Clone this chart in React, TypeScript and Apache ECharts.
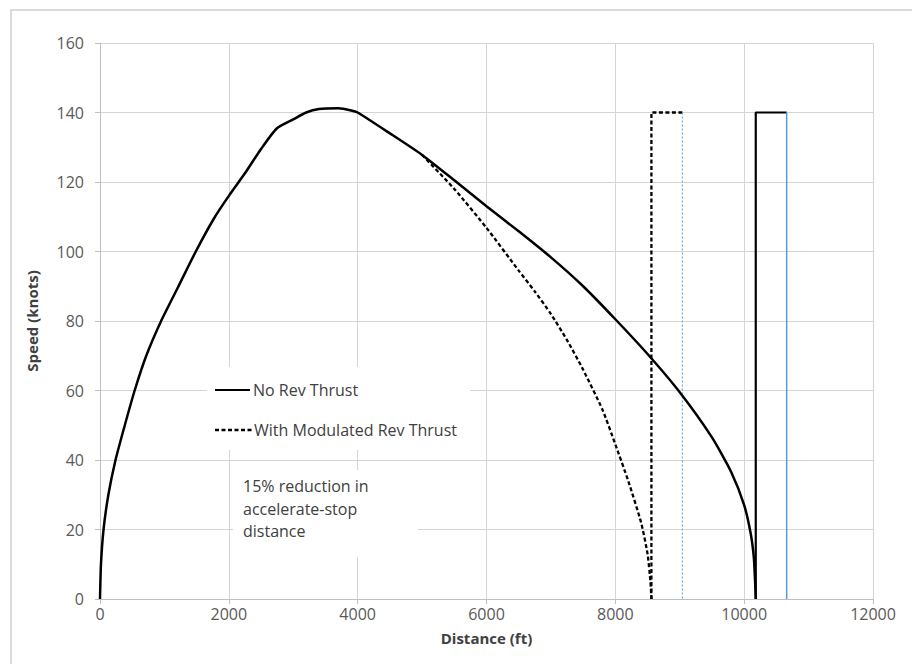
import React, { useEffect, useRef } from "react";
import * as echarts from "echarts";

// Takeoff run + stop: speed (knots) against distance (ft)
const noRevThrust: [number, number][] = [
  [0, 0], [15, 10], [55, 20], [130, 30], [241, 40], [385, 50], [538, 60],
  [718, 70], [949, 80], [1205, 89.5], [1487, 100], [1769, 109.5], [2000, 116],
  [2250, 122.5], [2500, 129.5], [2744, 135.4], [3000, 138], [3200, 140],
  [3400, 141], [3700, 141.2], [3900, 140.6], [4000, 140], [4500, 134],
  [5000, 127.8], [5500, 120.5], [6000, 113], [6500, 105.8], [7000, 98.3],
  [7500, 90], [8000, 80.5], [8500, 70.5], [9000, 59.5], [9500, 46.5],
  [9800, 36.5], [10000, 27], [10100, 19], [10150, 12], [10170, 5], [10180, 0],
];

const withModRevThrust: [number, number][] = [
  [5000, 127.8], [5500, 118], [6000, 106.8], [6500, 94.5], [6750, 88.5],
  [7000, 82], [7250, 74.5], [7500, 66], [7800, 54.5], [8000, 44.5],
  [8200, 34], [8400, 22], [8500, 13], [8545, 5], [8560, 0],
];

// Accelerate-stop distance markers
const stopNoRev: [number, number][] = [[10180, 0], [10180, 140], [10660, 140]];
const stopNoRevEnd: [number, number][] = [[10660, 140], [10660, 0]];
const stopModRev: [number, number][] = [[8560, 0], [8560, 140], [9040, 140]];
const stopModRevEnd: [number, number][] = [[9040, 140], [9040, 0]];

const legendNames = ["No Rev Thrust", "With Modulated Rev Thrust"];
const noteLines = ["15% reduction in", "accelerate-stop", "distance"];

const FONT = "'Open Sans', 'Liberation Sans', sans-serif";
const GRID = "#d4d4d4";
const TEXT = "#404040";
const BLUE = "#5b9bd5";

export default function App() {
  const ref = useRef<HTMLDivElement>(null);

  useEffect(() => {
    if (!ref.current) return;
    const chart = echarts.init(ref.current, undefined, { renderer: "svg" });

    const line = (data: [number, number][], color: string, width: number, type: any, smooth: number | boolean, z = 2) => ({
      type: "line",
      data,
      showSymbol: false,
      smooth,
      z,
      lineStyle: { color, width, type },
      emphasis: { disabled: true },
      silent: true,
    });

    chart.setOption({
      animation: false,
      backgroundColor: "#ffffff",
      textStyle: { fontFamily: FONT },
      grid: { left: 100, right: 39, top: 43, bottom: 65 },
      xAxis: {
        type: "value",
        min: 0,
        max: 12000,
        interval: 2000,
        name: "Distance (ft)",
        nameLocation: "middle",
        nameGap: 31,
        nameTextStyle: { fontFamily: FONT, fontSize: 15, fontWeight: "bold", color: TEXT },
        axisLine: { show: true, lineStyle: { color: "#bfbfbf", width: 1 } },
        axisTick: { show: true, length: 5, lineStyle: { color: "#bfbfbf" } },
        axisLabel: { fontFamily: FONT, fontSize: 16, color: "#595959", margin: 7, formatter: (v: number) => String(v) },
        splitLine: { show: true, lineStyle: { color: GRID, width: 1 } },
      },
      yAxis: {
        type: "value",
        min: 0,
        max: 160,
        interval: 20,
        name: "Speed (knots)",
        nameLocation: "middle",
        nameGap: 61,
        nameTextStyle: { fontFamily: FONT, fontSize: 15, fontWeight: "bold", color: TEXT },
        axisLine: { show: true, lineStyle: { color: "#bfbfbf", width: 1 } },
        axisTick: { show: true, length: 5, lineStyle: { color: "#bfbfbf" } },
        axisLabel: { fontFamily: FONT, fontSize: 16, color: "#595959", margin: 16 },
        splitLine: { show: true, lineStyle: { color: GRID, width: 1 } },
      },
      series: [
        line(withModRevThrust, "#000000", 2.3, [4, 2.5], 0.2, 2),
        line(noRevThrust, "#000000", 2.5, "solid", 0.2, 3),
        line(stopModRev, "#000000", 2.3, [4, 2.5], false, 2),
        line(stopModRevEnd, BLUE, 1, [2, 2], false, 2),
        line(stopNoRev, "#000000", 2.2, "solid", false, 2),
        line(stopNoRevEnd, BLUE, 1.5, "solid", false, 2),
      ],
      graphic: [
        // outer chart frame
        { type: "rect", z: 0, silent: true, shape: { x: 11, y: 10, width: 930, height: 700 },
          style: { fill: "none", stroke: "#d0d0d0", lineWidth: 1.5 } },
        // legend panel
        { type: "rect", z: 10, silent: true, shape: { x: 207, y: 367, width: 263, height: 83 },
          style: { fill: "#ffffff", stroke: "none" } },
        { type: "line", z: 11, silent: true, shape: { x1: 215, y1: 390, x2: 250, y2: 390 },
          style: { stroke: "#000000", lineWidth: 2 } },
        { type: "text", z: 11, silent: true, x: 253, y: 390,
          style: { text: legendNames[0], font: `16px ${FONT}`, fill: TEXT, verticalAlign: "middle" } },
        { type: "line", z: 11, silent: true, shape: { x1: 215, y1: 430, x2: 252, y2: 430 },
          style: { stroke: "#000000", lineWidth: 2.3, lineDash: [4, 2.5] } },
        { type: "text", z: 11, silent: true, x: 254, y: 430,
          style: { text: legendNames[1], font: `16px ${FONT}`, fill: TEXT, verticalAlign: "middle" } },
        // annotation box
        { type: "rect", z: 10, silent: true, shape: { x: 233, y: 470, width: 185, height: 87 },
          style: { fill: "#ffffff", stroke: "none" } },
        ...noteLines.map((t, i) => ({
          type: "text", z: 11, silent: true, x: 243, y: 486 + i * 22.5,
          style: { text: t, font: `16px ${FONT}`, fill: TEXT, verticalAlign: "middle" },
        })),
      ],
    });

    return () => chart.dispose();
  }, []);

  return <div ref={ref} style={{ width: 912, height: 664, position: "absolute", left: 0, top: 0 }} />;
}
